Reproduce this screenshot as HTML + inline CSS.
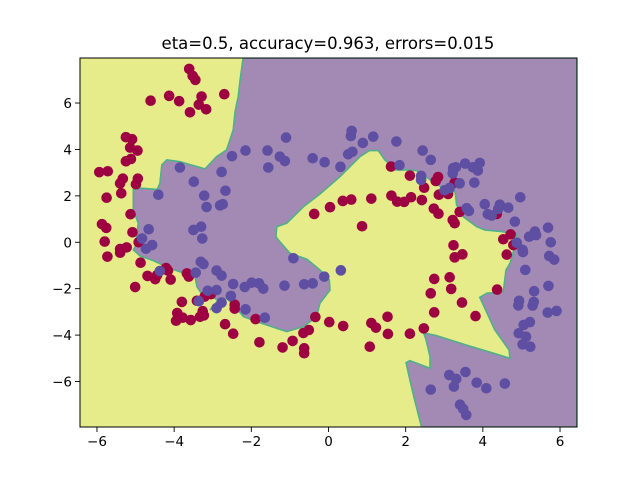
<!DOCTYPE html>
<html><head><meta charset="utf-8"><style>
html,body{margin:0;padding:0;background:#fff;width:640px;height:480px;overflow:hidden}
svg text{font-family:"DejaVu Sans","Liberation Sans",sans-serif}
</style></head><body>
<svg id="chart" width="640" height="480" viewBox="0 0 640 480" xmlns="http://www.w3.org/2000/svg">
<text x="328" y="49" font-size="16.5" text-anchor="middle" fill="#000">eta=0.5, accuracy=0.963, errors=0.015</text>
<g id="plot"></g>
</svg>
<script>
const xDomain=[-6.44,6.44];
const yDomain=[-7.96,7.94];
const xTicks=[-6,-4,-2,0,2,4,6];
const yTicks=[-6,-4,-2,0,2,4,6];
// class-1 region boundary (data coords)
const boundaryX=[-2.21,6.44,6.44,2.41,2.21,2.11,2.01,2.11,2.63,2.63,2.53,2.47,2.76,3.58,4.27,4.70,4.68,4.31,3.92,4.10,4.53,4.60,4.70,4.77,4.88,4.49,4.05,3.84,3.49,3.32,3.28,3.02,2.71,2.28,2.01,1.75,1.46,1.29,1.06,0.82,0.30,-0.22,-0.65,-1.08,-1.34,-1.36,-1.30,-1.00,-0.56,-0.22,0.02,0.04,-0.22,-0.31,-0.65,-1.08,-1.34,-1.86,-2.21,-2.38,-2.64,-2.99,-3.07,-2.86,-3.07,-3.24,-3.41,-3.46,-3.85,-4.11,-4.54,-4.88,-5.06,-5.01,-4.93,-5.06,-5.06,-4.84,-4.44,-4.37,-4.32,-4.19,-3.85,-3.20,-2.90,-2.64,-2.47,-2.42,-2.34,-2.29,-2.22];
const boundaryY=[7.94,7.94,-7.96,-7.96,-6.65,-5.94,-5.19,-5.10,-5.43,-4.93,-4.21,-3.92,-4.00,-4.43,-4.78,-5.00,-4.64,-3.78,-2.37,-2.20,-2.13,-1.19,-0.91,-0.55,0.34,0.46,0.53,0.67,1.10,1.61,2.18,2.28,2.61,3.09,3.12,3.12,3.55,3.95,3.95,3.69,2.83,2.08,1.53,0.82,0.67,0.24,0.10,-0.47,-0.73,-1.19,-1.62,-2.06,-2.62,-3.21,-3.64,-3.85,-3.71,-3.42,-3.20,-2.84,-2.41,-2.83,-2.92,-2.49,-2.31,-2.34,-1.91,-1.48,-1.27,-1.12,-0.79,-0.59,-0.33,-0.19,0.82,1.39,2.28,2.33,2.28,2.54,3.33,3.55,3.47,3.16,3.69,3.98,4.84,5.63,6.28,6.99,7.85];
const redX=[-3.61,-3.52,-3.45,-4.61,-4.13,-3.87,-3.59,-3.36,-3.29,-3.17,-2.70,-5.25,-5.09,-5.14,-4.95,-5.25,-5.12,-5.94,-5.72,-5.33,-5.40,-4.94,-4.99,-5.75,-5.37,-5.13,-5.87,-5.76,-5.08,-5.80,-5.40,-5.23,-4.92,-0.37,0.04,1.62,2.11,2.48,2.78,2.84,2.86,3.10,3.27,0.37,0.59,1.11,1.63,1.78,1.96,2.14,2.42,2.73,2.85,3.22,3.27,3.40,4.36,0.87,4.72,4.53,4.79,3.24,-5.73,-5.40,-4.87,-4.69,-4.49,-4.44,-4.21,-4.16,-4.09,-5.01,-3.67,-3.62,-3.80,-3.41,-3.26,-3.33,-3.23,-3.92,-3.95,-3.78,-3.57,-3.21,-3.05,-2.68,-2.47,-2.43,-2.43,-1.89,-1.79,-1.19,-0.93,-0.65,-0.51,-0.63,-0.63,-0.34,0.02,3.27,3.47,4.62,2.74,3.14,3.18,2.65,3.46,4.37,2.74,3.81,0.38,1.11,1.23,1.53,1.54,2.11,2.47,1.07];
const redY=[7.47,7.17,7.00,6.10,6.31,6.08,5.60,5.93,6.28,5.73,6.38,4.53,4.44,4.08,3.95,3.49,3.59,3.02,3.06,2.74,2.54,2.74,2.50,1.92,2.11,1.21,0.78,0.62,0.43,0.03,-0.29,-0.22,0.00,1.22,1.51,3.26,2.87,2.35,2.64,2.81,2.05,2.08,2.57,1.78,1.84,1.88,2.01,1.75,1.74,1.94,1.82,1.45,1.23,0.96,0.82,1.31,1.22,0.69,0.34,0.13,-0.12,-0.13,-0.62,-0.45,-0.88,-1.45,-1.59,-1.41,-1.11,-1.22,-1.61,-1.93,-1.34,-1.48,-2.57,-2.52,-2.97,-3.21,-3.15,-3.05,-3.38,-3.25,-3.35,-2.34,-2.24,-3.53,-3.94,-2.69,-2.86,-3.31,-4.31,-4.53,-4.25,-3.91,-3.78,-4.57,-4.78,-3.22,-3.44,-0.65,-0.52,-0.53,-1.58,-1.51,-2.01,-2.20,-2.60,-2.04,-3.02,-3.18,-3.61,-3.48,-3.68,-3.21,-3.95,-3.94,-3.71,-4.50];
const blueX=[-1.10,-2.15,-2.50,-1.58,-1.26,-1.13,-1.56,-0.41,-0.10,-3.85,-2.77,-3.49,-4.41,-3.22,-2.67,-3.16,-2.81,-2.74,-4.66,-3.50,-3.30,-3.27,-4.83,-4.57,-4.73,0.60,0.58,0.89,1.16,1.76,0.51,0.62,0.31,2.44,2.65,1.84,2.40,2.40,3.23,3.30,3.54,3.74,3.92,3.87,3.22,3.78,3.40,3.14,3.01,4.97,3.58,3.64,4.05,4.13,4.23,4.44,4.40,4.66,4.83,5.69,5.35,5.20,5.38,5.76,4.88,5.03,-4.37,-3.31,-3.24,-3.44,-2.90,-2.77,-2.47,-3.13,-2.90,-3.36,-2.53,-2.77,-2.90,-2.15,-2.17,-1.99,-1.80,-1.69,-1.14,-0.63,-0.41,-0.91,-0.11,-1.65,0.32,5.04,5.72,5.85,5.10,5.70,5.33,4.94,4.92,5.32,5.29,5.68,5.91,5.22,5.06,4.93,5.12,5.03,5.23,3.13,3.31,3.55,3.25,3.84,4.09,4.57,2.65,3.41,3.49,3.57];
const blueY=[4.51,3.95,3.71,3.95,3.69,3.50,3.22,3.62,3.45,3.22,3.03,2.61,2.05,2.01,2.22,1.52,1.59,1.64,0.56,0.53,0.67,0.16,0.16,-0.12,-0.28,4.80,4.58,4.28,4.55,4.34,3.79,3.90,3.25,3.95,3.55,3.32,2.86,2.69,3.19,3.23,3.39,3.23,3.42,3.09,2.97,2.57,2.54,2.34,2.24,1.94,1.47,1.35,1.64,1.21,1.15,1.62,1.44,1.49,0.89,0.63,0.46,0.24,0.31,0.00,-0.02,-0.33,-1.24,-0.84,-0.94,-1.31,-1.22,-1.44,-1.80,-2.09,-2.06,-2.54,-2.31,-2.60,-2.84,-2.89,-1.93,-1.74,-1.77,-2.00,-1.87,-1.81,-1.77,-0.69,-1.48,-3.25,-1.21,-0.42,-0.59,-0.75,-1.19,-1.88,-2.11,-2.52,-2.72,-2.57,-2.73,-3.03,-2.96,-3.44,-3.56,-3.92,-4.07,-4.40,-4.50,-5.72,-5.89,-5.59,-6.22,-6.05,-6.29,-6.09,-6.35,-7.00,-7.18,-7.44];

const L=80,R=577,T=58,B=427;
const sx=v=>L+(v-xDomain[0])/(xDomain[1]-xDomain[0])*(R-L);
const sy=v=>B-(v-yDomain[0])/(yDomain[1]-yDomain[0])*(B-T);
const NS='http://www.w3.org/2000/svg';
const g=document.getElementById('plot');
function mk(tag,attrs,parent){const e=document.createElementNS(NS,tag);for(const k in attrs)e.setAttribute(k,attrs[k]);(parent||g).appendChild(e);return e;}

const clip=mk('clipPath',{id:'pc'});mk('rect',{x:L,y:T,width:R-L,height:B-T},clip);
const bg=mk('rect',{x:L,y:T,width:R-L,height:B-T,fill:'#e6ec8a'});


const pts=boundaryX.map((x,i)=>sx(x).toFixed(1)+','+sy(boundaryY[i]).toFixed(1)).join(' ');
const reg=mk('polygon',{points:pts,fill:'#a38ab5',stroke:'#4fb08a','stroke-width':1.6,'clip-path':'url(#pc)'});



const pg=mk('g',{'clip-path':'url(#pc)'});


redX.forEach((x,i)=>{const c=mk('circle',{cx:sx(x),cy:sy(redY[i]),r:5.3,fill:'#9e0142'},pg);

});
blueX.forEach((x,i)=>{const c=mk('circle',{cx:sx(x),cy:sy(blueY[i]),r:5.3,fill:'#5e4fa2'},pg);

});

const frame=mk('rect',{x:L,y:T,width:R-L,height:B-T,fill:'none',stroke:'#000','stroke-width':1});


xTicks.forEach(t=>{const x=sx(t);mk('line',{x1:x,x2:x,y1:B,y2:B+5,stroke:'#000','stroke-width':0.9});
const tx=mk('text',{x:x,y:B+19,'font-size':13.5,'text-anchor':'middle',fill:'#000'});tx.textContent=(t<0?'\u2212'+(-t):t);

});
yTicks.forEach(t=>{const y=sy(t);mk('line',{x1:L-5,x2:L,y1:y,y2:y,stroke:'#000','stroke-width':0.9});
const tx=mk('text',{x:L-8,y:y+5,'font-size':13.5,'text-anchor':'end',fill:'#000'});tx.textContent=(t<0?'\u2212'+(-t):t);

});
</script>
</body></html>
